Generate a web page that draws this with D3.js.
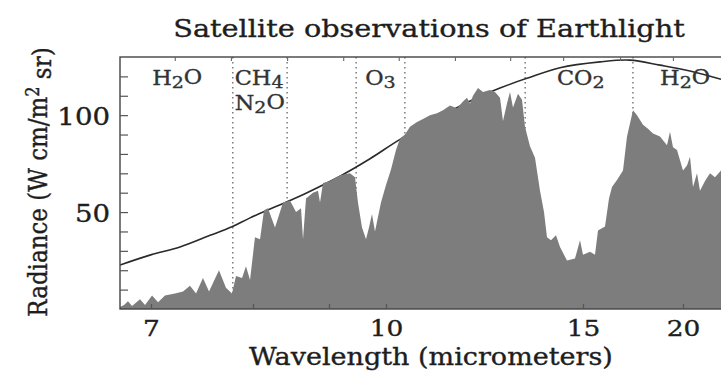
<!DOCTYPE html>
<html>
<head>
<meta charset="utf-8">
<script src="https://cdn.jsdelivr.net/npm/d3@7"></script>
<style>
  body { margin: 0; background: #fff; }
  svg { display: block; font-family: "DejaVu Serif", serif; }
  text { stroke: currentColor; stroke-width: 0.35px; }
</style>
</head>
<body>
<svg id="chart" width="721" height="372"></svg>
<script>
// measured spectrum (wavelength in micrometers, radiance)
const spectrumWl = [6.744, 6.776, 6.808, 6.841, 6.907, 6.949, 7.009, 7.061, 7.122, 7.212,
  7.286, 7.351, 7.409, 7.476, 7.536, 7.636, 7.708, 7.771, 7.814, 7.879,
  7.922, 7.967, 8.023, 8.083, 8.131, 8.179, 8.266, 8.367, 8.457, 8.537,
  8.604, 8.631, 8.672, 8.769, 8.840, 8.869, 8.912, 9.016, 9.177, 9.344,
  9.430, 9.482, 9.553, 9.625, 9.679, 9.734, 9.790, 9.903, 10.000, 10.085,
  10.172, 10.243, 10.332, 10.423, 10.554, 10.668, 10.804, 10.944, 11.067, 11.214,
  11.365, 11.498, 11.588, 11.657, 11.726, 11.844, 11.963, 12.135, 12.261, 12.390,
  12.468, 12.574, 12.655, 12.737, 12.876, 12.989, 13.075, 13.221, 13.371, 13.524,
  13.649, 13.744, 13.873, 14.038, 14.173, 14.414, 14.701, 14.887, 15.000, 15.267,
  15.464, 15.584, 15.873, 16.043, 16.172, 16.393, 16.667, 16.854, 17.143, 17.341,
  17.647, 17.910, 18.182, 18.576, 18.987, 19.169, 19.355, 19.608, 20.000, 20.270,
  20.478, 20.690, 20.979, 21.201, 21.583, 21.978, 22.388, 22.901];
const spectrumRad = [1, 2, 4, 1.5, 5, 2, 7, 3.5, 7, 8,
  9, 12, 8, 16, 9, 20, 11, 8, 17, 16,
  22, 15, 37, 36, 51, 52, 42, 55, 56, 50,
  52, 36, 57, 60, 61, 55, 65, 66, 69, 70,
  68, 55, 42, 36, 42, 49, 40, 55, 64, 72,
  82, 88, 90, 94, 96.5, 98, 100, 101, 102.5, 105,
  103.5, 107, 109, 106, 110, 114, 112, 113, 112, 109,
  97, 106, 112, 104, 111, 108, 94, 84, 78, 61,
  50, 37, 35.5, 38, 32, 25, 26, 35.5, 28, 29.5,
  28, 40.5, 42.5, 57, 63, 66.5, 71.5, 89, 102.5, 100,
  95, 93, 90.5, 89, 84.5, 91.5, 83.5, 82, 71.5, 74,
  78.5, 63, 70, 61, 66, 70, 68, 71.5];

// blackbody envelope
const planckWl = [6.744, 6.991, 7.258, 7.546, 7.771, 7.967, 8.457, 8.658, 9.177, 9.698,
  10.243, 11.214, 11.773, 12.390, 13.133, 14.173, 15.666, 16.997, 18.576, 20.478, 22.901];
const planckRad = [22.7, 27.8, 32, 38, 42.4, 47, 56, 59.5, 68.5, 77.5,
  87.5, 102, 108.5, 114, 119, 124.5, 127.5, 128.4, 125.8, 122.8, 118.5];

// absorption bands
const bandEdges = [7.78, 8.42, 9.45, 10.33, 13.08, 17.14];
const bandLabels = [["H2O"], ["CH4", "N2O"], ["O3"], ["CO2"], ["H2O"]];
const bandLabelWl = [7.01, 7.80, 9.61, 14.07, 18.58];

// axes
const xTickValues = [7, 8, 9, 10, 15, 20];
const xTickLabels = ["7", "", "", "10", "15", "20"];
const topTickWl = [7.21, 7.76, 8.42, 9.23, 10.22, 11.32, 12.66, 14.28, 16.53, 19.35];
const yTickValues = [10, 20, 30, 40, 50, 60, 70, 80, 90, 100, 110, 120];
const yTickLabels = [50, 100];

const svg = d3.select("svg#chart");
const plot = { left: 120, top: 57, bottom: 309, right: 750 };
const stretch = 1.15; // the source lettering is wider than it is tall
const ink = "#1e1e1e";

// x runs linear in wavenumber, labelled in wavelength
const x = d3.scaleLinear()
  .domain(xTickValues.map(v => 1 / v))
  .range([151, 253, 329, 386, 583, 683]);
const wx = wl => x(1 / wl);
const y = d3.scaleLinear().domain([0, 130]).range([plot.bottom, plot.top]);

svg.append("defs").append("clipPath").attr("id", "clip")
  .append("rect")
  .attr("x", plot.left).attr("y", plot.top)
  .attr("width", plot.right - plot.left).attr("height", plot.bottom - plot.top);

const g = svg.append("g").attr("clip-path", "url(#clip)");

g.selectAll("line.band")
  .data(bandEdges)
  .enter()
  .append("line")
  .attr("class", "band")
  .attr("x1", d => wx(d)).attr("x2", d => wx(d))
  .attr("y1", plot.top).attr("y2", plot.bottom)
  .attr("stroke", "#666")
  .attr("stroke-width", 1.3)
  .attr("stroke-dasharray", "1.5,3.5");

const planck = d3.zip(planckWl, planckRad);
g.append("path")
  .datum(planck)
  .attr("fill", "none")
  .attr("stroke", "#2a2a2a")
  .attr("stroke-width", 1.6)
  .attr("d", d3.line().x(d => wx(d[0])).y(d => y(d[1])).curve(d3.curveCatmullRom));

const spectrum = d3.zip(spectrumWl, spectrumRad);
g.append("path")
  .datum(spectrum)
  .attr("fill", "#7d7d7d")
  .attr("d", d3.area().x(d => wx(d[0])).y0(y(0)).y1(d => y(d[1])));

// frame
svg.append("rect")
  .attr("x", plot.left).attr("y", plot.top)
  .attr("width", plot.right - plot.left).attr("height", plot.bottom - plot.top)
  .attr("fill", "none")
  .attr("stroke", "#444")
  .attr("stroke-width", 1.4);

const yAxis = svg.append("g")
  .attr("transform", `translate(${plot.left},0)`)
  .call(d3.axisLeft(y)
    .tickValues(yTickValues)
    .tickSizeInner(-8).tickSizeOuter(0).tickPadding(10)
    .tickFormat(d => yTickLabels.includes(d) ? d : ""));
yAxis.select(".domain").remove();
yAxis.selectAll("line").attr("stroke", "#555").attr("stroke-width", 1.2);
yAxis.selectAll("text")
  .attr("font-family", "DejaVu Serif").attr("font-size", 24).attr("fill", ink)
  .attr("color", ink)
  .attr("dy", "0.4em").attr("x", -10 / stretch)
  .attr("transform", `scale(${stretch},1)`);

const xAxis = svg.append("g")
  .attr("transform", `translate(0,${plot.bottom})`)
  .call(d3.axisBottom(x)
    .tickValues(xTickValues.map(v => 1 / v))
    .tickSizeInner(-5).tickSizeOuter(0).tickPadding(11)
    .tickFormat((d, i) => xTickLabels[i]));
xAxis.select(".domain").remove();
xAxis.selectAll("line").attr("stroke", "#555").attr("stroke-width", 1.2);
xAxis.selectAll(".tick text")
  .attr("font-family", "DejaVu Serif").attr("font-size", 23).attr("fill", ink)
  .attr("color", ink)
  .attr("transform", `scale(${stretch},1)`);

const topAxis = svg.append("g")
  .attr("transform", `translate(0,${plot.top})`)
  .call(d3.axisTop(x)
    .tickValues(topTickWl.map(v => 1 / v))
    .tickSizeInner(-4).tickSizeOuter(0)
    .tickFormat(""));
topAxis.select(".domain").remove();
topAxis.selectAll("line").attr("stroke", "#666").attr("stroke-width", 1.1);

// chemical formula with subscript digits
function formula(text, str) {
  let sub = false;
  str.split(/(\d)/).filter(s => s).forEach(part => {
    const isDigit = /\d/.test(part);
    const t = text.append("tspan").text(part);
    if (isDigit && !sub) t.attr("dy", "0.2em").attr("font-size", "0.85em");
    else if (isDigit) t.attr("font-size", "0.85em");
    else if (sub) t.attr("dy", "-0.2em");
    sub = isDigit;
  });
}

bandLabels.forEach((lines, i) => {
  lines.forEach((str, row) => {
    const t = svg.append("text")
      .attr("transform", `translate(${wx(bandLabelWl[i])},${85 + row * 25}) scale(${stretch},1)`)
      .attr("font-size", 19.5)
      .attr("fill", "#333")
      .attr("color", "#333");
    formula(t, str);
  });
});

svg.append("text")
  .attr("transform", `translate(429,37) scale(${stretch},1)`)
  .attr("text-anchor", "middle")
  .attr("font-size", 25)
  .attr("fill", ink)
  .attr("color", ink)
  .text("Satellite observations of Earthlight");

svg.append("text")
  .attr("transform", `translate(431,365) scale(${stretch},1)`)
  .attr("text-anchor", "middle")
  .attr("font-size", 23.5)
  .attr("fill", ink)
  .attr("color", ink)
  .text("Wavelength (micrometers)");

const yTitle = svg.append("text")
  .attr("transform", `translate(47,182) rotate(-90) scale(1,${stretch})`)
  .attr("text-anchor", "middle")
  .attr("font-size", 23)
  .attr("fill", ink)
  .attr("color", ink);
yTitle.append("tspan").text("Radiance (W cm/m");
yTitle.append("tspan").attr("dy", "-0.45em").attr("font-size", "0.7em").text("2");
yTitle.append("tspan").attr("dy", "0.45em").text(" sr)");
</script>
</body>
</html>
